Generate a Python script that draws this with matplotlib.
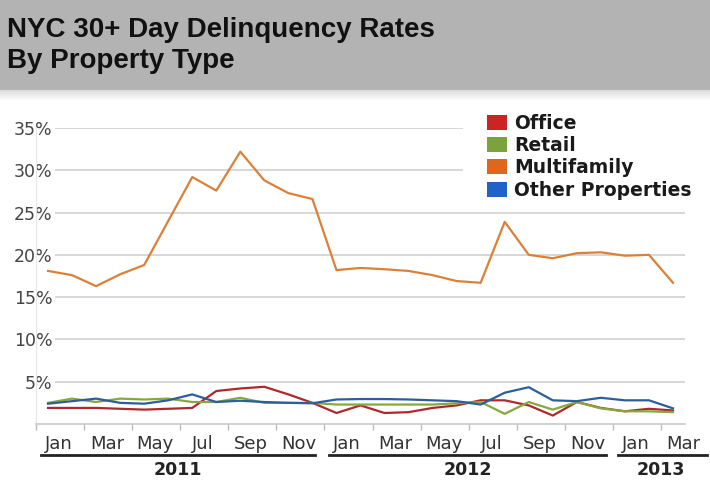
import numpy as np
import matplotlib
matplotlib.use('Agg')
import matplotlib.pyplot as plt
from matplotlib.patches import Rectangle, Patch

## DATA ##
months = ['Jan', 'Feb', 'Mar', 'Apr', 'May', 'Jun', 'Jul', 'Aug', 'Sep', 'Oct', 'Nov', 'Dec'] * 2 + ['Jan', 'Feb', 'Mar']
years = ['2011', '2012', '2013']
office = [1.9, 1.9, 1.9, 1.8, 1.7, 1.8, 1.9, 3.9, 4.2, 4.4, 3.5, 2.5,
          1.3, 2.2, 1.3, 1.4, 1.9, 2.2, 2.8, 2.8, 2.2, 1.0, 2.6, 1.9,
          1.5, 1.8, 1.6]
retail = [2.5, 3.0, 2.6, 3.0, 2.9, 3.0, 2.6, 2.6, 3.1, 2.5, 2.5, 2.5,
          2.3, 2.3, 2.3, 2.3, 2.3, 2.45, 2.6, 1.2, 2.6, 1.7, 2.6, 1.85,
          1.5, 1.5, 1.4]
multifamily = [18.1, 17.6, 16.3, 17.7, 18.8, 24.0, 29.2, 27.6, 32.2, 28.8, 27.3, 26.6,
               18.2, 18.45, 18.3, 18.1, 17.6, 16.9, 16.7, 23.9, 20.0, 19.6, 20.2, 20.3,
               19.9, 20.0, 16.7]
other = [2.4, 2.7, 3.0, 2.5, 2.4, 2.8, 3.5, 2.6, 2.75, 2.6, 2.5, 2.45,
         2.9, 2.95, 2.95, 2.9, 2.8, 2.7, 2.3, 3.7, 4.35, 2.8, 2.7, 3.1,
         2.8, 2.8, 1.85]

series_names = ['Office', 'Retail', 'Multifamily', 'Other Properties']
line_colors = ['#b0282c', '#86a83e', '#dc8038', '#2c5e9c']
legend_colors = ['#cc2424', '#7aa33e', '#e0661c', '#1f63c9']

x = np.arange(len(months))

## FIGURE ##
fig = plt.figure(figsize=(7.1, 4.84), dpi=100)

# title banner + soft shadow
fig.patches.append(Rectangle((0, 1 - 90 / 484), 1, 90 / 484, transform=fig.transFigure,
                             facecolor='#b3b3b3', edgecolor='none', zorder=0))
for k in range(10):
    fig.patches.append(Rectangle((0, 1 - (91 + k) / 484), 1, 1 / 484, transform=fig.transFigure,
                                 facecolor='#b3b3b3', alpha=0.45 * (1 - k / 10),
                                 edgecolor='none', zorder=0))
fig.text(7 / 710, 1 - 37 / 484, 'NYC 30+ Day Delinquency Rates', family='Liberation Sans',
         weight='bold', fontsize=20, color='#111111', va='baseline', ha='left')
fig.text(7 / 710, 1 - 68 / 484, 'By Property Type', family='Liberation Sans',
         weight='bold', fontsize=20, color='#111111', va='baseline', ha='left')

ax = fig.add_axes([36 / 710, 60 / 484, 649 / 710, 296 / 484])

for vals, name, c in zip([office, retail, multifamily, other], series_names, line_colors):
    ax.plot(x, vals, color=c, lw=1.6, label=name, zorder=3)

ax.set_xlim(-0.5, 26.5)
ax.set_ylim(0, 35)

# y axis
ax.set_yticks(range(5, 40, 5))
ax.set_yticklabels([f'{v}%' for v in range(5, 40, 5)])
ax.tick_params(axis='y', length=0, pad=-12, labelsize=12.5, labelcolor='#444444')
for lbl in ax.get_yticklabels():
    lbl.set_bbox(dict(facecolor='white', edgecolor='none', pad=1.5))
ax.yaxis.grid(True, color='#d4d4d4', lw=1.3, zorder=0)

# x axis: tick marks between label pairs, labels offset
ax.set_xticks(np.arange(-0.5, 26.5, 2))
ax.set_xticklabels([])
ax.tick_params(axis='x', which='major', length=4, color='#bbbbbb', width=1)
ax.set_xticks(x[::2] + 0.45, minor=True)
ax.set_xticklabels(months[::2], minor=True)
ax.tick_params(axis='x', which='minor', length=0, pad=8, labelsize=13, labelcolor='#333333')

for side in ['top', 'right']:
    ax.spines[side].set_visible(False)
ax.spines['left'].set_color('#e6e6e6')
ax.spines['bottom'].set_color('#c8c8c8')
ax.spines['bottom'].set_linewidth(1.2)

# year brackets under the month labels
tr = ax.get_xaxis_transform()
year_spans = [(-0.3, 11.1), (11.7, 23.2), (23.7, 27.4)]
year_pos = [5.4, 17.45, 25.5]
for (x0, x1), xc, yr in zip(year_spans, year_pos, years):
    ax.plot([x0, x1], [-0.105, -0.105], color='#222222', lw=2, transform=tr, clip_on=False)
    ax.text(xc, -0.155, yr, transform=tr, ha='center', va='center',
            fontsize=12.5, weight='bold', color='#222222')

# white block behind the legend hides the upper gridlines
ax.add_patch(Rectangle((463 / 710, 1 - 205 / 484), 247 / 710, 100 / 484,
                       transform=fig.transFigure, facecolor='white', edgecolor='none',
                       zorder=4, clip_on=False))

# legend
handles = [Patch(facecolor=c, edgecolor='none', label=n) for c, n in zip(legend_colors, series_names)]
leg = fig.legend(handles=handles, loc='upper left', bbox_to_anchor=(481 / 710, 1 - 108 / 484),
                 frameon=False, prop=dict(weight='bold', size=13.5),
                 handlelength=1.1, handleheight=0.85,
                 handletextpad=0.35, labelspacing=0.18, borderpad=0.3, borderaxespad=0)
for t in leg.get_texts():
    t.set_color('#1a1a1a')

fig.savefig('out.png', dpi=100)
